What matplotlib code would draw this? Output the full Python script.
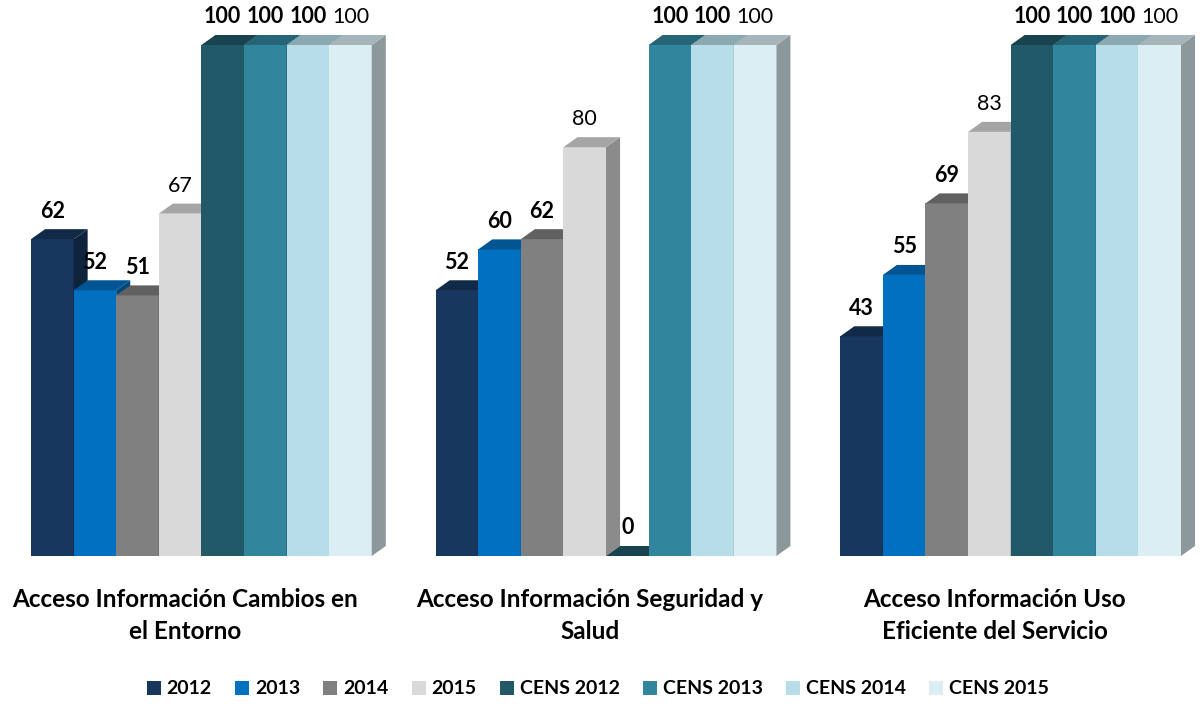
import matplotlib
matplotlib.use("Agg")
import matplotlib.pyplot as plt
from matplotlib.patches import Patch, Polygon
from matplotlib.colors import to_rgb

plt.rcParams["font.family"] = ["Lato", "DejaVu Sans"]

# Data
categories = [
    "Acceso Información Cambios en\nel Entorno",
    "Acceso Información Seguridad y\nSalud",
    "Acceso Información Uso\nEficiente del Servicio",
]
series = ["2012", "2013", "2014", "2015",
          "CENS 2012", "CENS 2013", "CENS 2014", "CENS 2015"]
vals_2012 = [62, 52, 43]
vals_2013 = [52, 60, 55]
vals_2014 = [51, 62, 69]
vals_2015 = [67, 80, 83]
vals_cens_2012 = [100, 0, 100]
vals_cens_2013 = [100, 100, 100]
vals_cens_2014 = [100, 100, 100]
vals_cens_2015 = [100, 100, 100]
values = [vals_2012, vals_2013, vals_2014, vals_2015,
          vals_cens_2012, vals_cens_2013, vals_cens_2014, vals_cens_2015]

colors = ["#17375E", "#0070C0", "#808080", "#D9D9D9",
          "#215968", "#31859C", "#B7DEE8", "#DAEEF3"]
bold_labels = [True, True, True, False, True, True, True, False]


def shade(c, f):
    r, g, b = to_rgb(c)
    return (r * f, g * f, b * f)


fig = plt.figure(figsize=(12.02, 7.04), dpi=100)
ax = fig.add_axes([31 / 1202, 148 / 704, 1150 / 1202, 511 / 704])
ax.set_xlim(0, 27)
ax.set_ylim(0, 100)
ax.axis("off")

group_step = 9.5
width = 1.0
dx, dy = 0.33, 1.96   # fake 3-D depth, in data units

z = 1
for g in range(len(categories)):
    for i, (vals, col) in enumerate(zip(values, colors)):
        h = vals[g]
        x0 = g * group_step + i * width
        x1 = x0 + width
        front = Polygon([(x0, 0), (x1, 0), (x1, h), (x0, h)],
                        closed=True, facecolor=col, edgecolor="none",
                        zorder=z, clip_on=False)
        top = Polygon([(x0, h), (x1, h), (x1 + dx, h + dy), (x0 + dx, h + dy)],
                      closed=True, facecolor=shade(col, 0.76), edgecolor="none",
                      zorder=z, clip_on=False)
        side = Polygon([(x1, 0), (x1 + dx, dy), (x1 + dx, h + dy), (x1, h)],
                       closed=True, facecolor=shade(col, 0.64), edgecolor="none",
                       zorder=z, clip_on=False)
        for p in (front, side, top):
            ax.add_patch(p)
        z += 1
        ax.annotate(f"{h}", (x0 + width / 2, h + dy), xytext=(0, 13),
                    textcoords="offset points", ha="center", va="center",
                    fontsize=15.5, fontweight="bold" if bold_labels[i] else "normal",
                    color="black", zorder=100, annotation_clip=False)

    # category label, two lines under the group
    cx = g * group_step + 4 - 0.38
    for k, line in enumerate(categories[g].split("\n")):
        ax.text(cx, -8.6 - k * 6.26, line, ha="center", va="center",
                fontsize=17.5, fontweight="bold", clip_on=False)

handles = [Patch(facecolor=c, edgecolor="none") for c in colors]
fig.legend(handles, series, loc="center", bbox_to_anchor=(0.4975, 15 / 704),
           ncol=8, frameon=False,
           prop={"weight": "bold", "size": 14},
           handlelength=0.72, handleheight=0.72, handletextpad=0.3,
           columnspacing=1.2, borderaxespad=0)

fig.savefig("out.png", dpi=100)
